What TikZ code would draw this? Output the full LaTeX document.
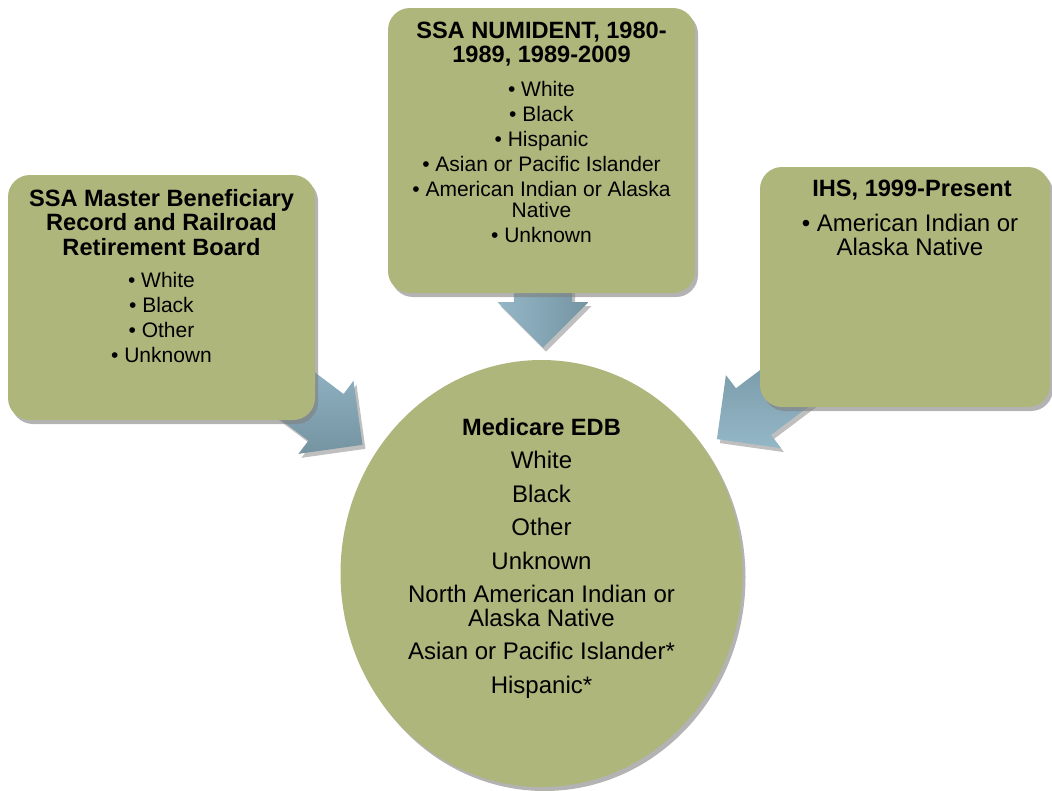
\documentclass[tikz,border=0pt]{standalone}
\usepackage{fontspec}
\setmainfont{Liberation Sans}
\usetikzlibrary{shapes.arrows,shapes.geometric,shadows}
\definecolor{boxgreen}{HTML}{AFB67C}
\definecolor{arrowlight}{HTML}{94B7C7}
\definecolor{arrowdark}{HTML}{7594A2}
\tikzset{
  box/.style={rectangle, rounded corners=22pt, fill=boxgreen,
    drop shadow={shadow xshift=3pt, shadow yshift=-4pt, fill=black!50, opacity=0.6}},
  feed/.style={single arrow, single arrow head extend=16.5pt,
    minimum height=120pt, inner xsep=0pt, inner ysep=29pt, anchor=tip,
    drop shadow={shadow xshift=3pt, shadow yshift=-4pt, fill=black!50, opacity=0.5}},
  head/.style={font=\bfseries\fontsize{23.6}{24.2}\selectfont, align=center, inner sep=0pt, anchor=north},
  items/.style={font=\fontsize{21}{21.6}\selectfont, align=center, inner sep=0pt, anchor=north}
}
\begin{document}
\begin{tikzpicture}[x=1pt,y=-1pt]
  \useasboundingbox (0,0) rectangle (1052,790);
  \node[feed, rotate=-90, left color=arrowlight, right color=arrowdark] (downarrow) at (543,348) {};
  \node[feed, rotate=-37, top color=arrowlight, bottom color=arrowdark] (leftarrow) at (362.7,445) {};
  \node[feed, rotate=-143, top color=arrowdark, bottom color=arrowlight] (rightarrow) at (716.7,439.3) {};

  \node[box, minimum width=307pt, minimum height=245pt] (mbr) at (161.5,297.5) {};
  \node[box, minimum width=307pt, minimum height=285pt] (numident) at (541.5,150.5) {};
  \node[box, minimum width=290pt, minimum height=240pt] (ihs) at (905,287) {};
  \node[ellipse, fill=boxgreen, minimum width=402pt, minimum height=427pt,
    drop shadow={shadow xshift=3pt, shadow yshift=-4pt, fill=black!50, opacity=0.6}] (edb) at (541.5,573.5) {};

  \node[head] (mbrtitle) at (161.5,189.4) {SSA Master Beneficiary\\Record and Railroad\\Retirement Board};
  \node[items] (mbritems) at (161.5,272) {• White\\[3.4pt]• Black\\[3.4pt]• Other\\[3.4pt]• Unknown};

  \node[head, font=\bfseries\fontsize{23.6}{24}\selectfont] (numidenttitle) at (541.5,22.2) {SSA NUMIDENT, 1980-\\1989, 1989-2009};
  \node[items] (numidentitems) at (541.5,80.7) {• White\\[3.4pt]• Black\\[3.4pt]• Hispanic\\[3.4pt]• Asian or Pacific Islander\\[3.4pt]• American Indian or Alaska\\Native\\[3.4pt]• Unknown};

  \node[head] (ihstitle) at (912,180.2) {IHS, 1999-Present};
  \node[items, font=\fontsize{24}{23.3}\selectfont] (ihsitems) at (910,214.2) {• American Indian or\\Alaska Native};

  \node[head] (edbtitle) at (541.5,417.7) {Medicare EDB};
  \node[items, font=\fontsize{24}{23.3}\selectfont] (edbitems) at (541.5,450.8) {White\\[10.3pt]Black\\[10.3pt]Other\\[10.3pt]Unknown\\[10.3pt]North American Indian or\\Alaska Native\\[10.3pt]Asian or Pacific Islander*\\[10.3pt]Hispanic*};
\end{tikzpicture}
\end{document}
